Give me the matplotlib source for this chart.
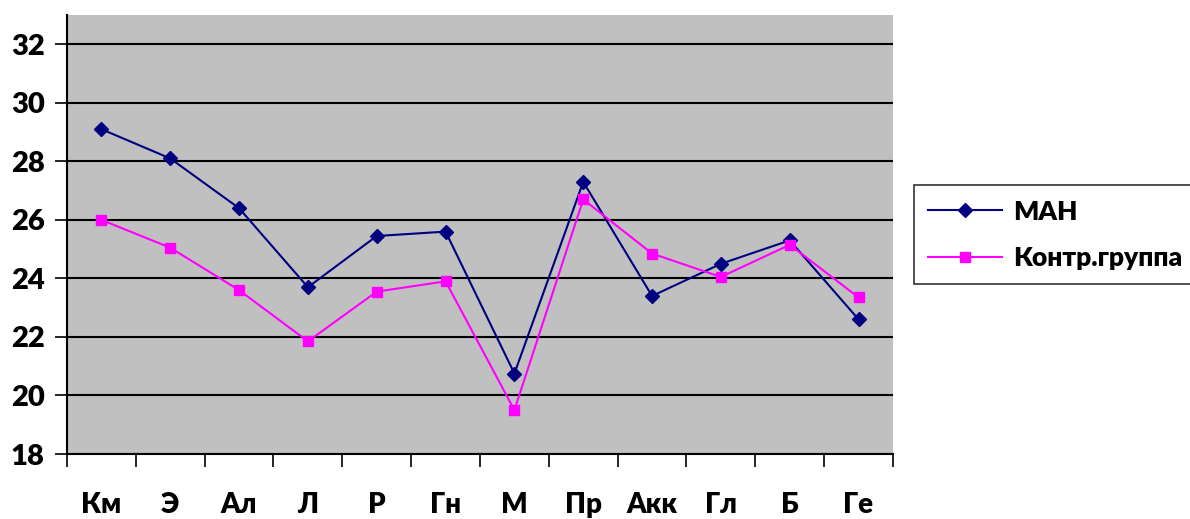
import matplotlib
matplotlib.use('Agg')
import matplotlib.pyplot as plt
import numpy as np

plt.rcParams['font.family'] = ['Lato', 'DejaVu Sans']
plt.rcParams['font.weight'] = 'heavy'

# ------------------------
# данные
# ------------------------
categories = ['Км', 'Э', 'Ал', 'Л', 'Р', 'Гн', 'М', 'Пр', 'Акк', 'Гл', 'Б', 'Ге']
man = [29.1, 28.1, 26.4, 23.7, 25.45, 25.6, 20.75, 27.3, 23.4, 24.5, 25.3, 22.6]
control = [26.0, 25.05, 23.6, 21.85, 23.55, 23.9, 19.5, 26.7, 24.85, 24.05, 25.15, 23.35]
yticks = [18, 20, 22, 24, 26, 28, 30, 32]

fig = plt.figure(figsize=(11.9, 5.19), dpi=100)
ax = fig.add_axes([0.0563, 0.1252, 0.6941, 0.8458])
ax.set_facecolor('#c0c0c0')

x = np.arange(len(categories))
ax.plot(x, man, color='#000080', lw=1.5, marker='D', ms=7, label='МАН', zorder=3)
ax.plot(x, control, color='#ff00ff', lw=1.5, marker='s', ms=7, label='Контр.группа', zorder=3)

ax.set_xlim(-0.5, len(categories) - 0.5)
ax.set_ylim(18, 33)
ax.set_yticks(yticks)
ax.yaxis.grid(True, color='black', lw=1.5)
ax.set_axisbelow(True)

# деления между категориями, подписи по центру
ax.set_xticks(np.arange(-0.5, len(categories), 1))
ax.set_xticklabels([])
ax.set_xticks(x, minor=True)
ax.set_xticklabels(categories, minor=True, fontsize=20, fontweight='heavy')
ax.tick_params(axis='x', which='minor', length=0, pad=27)
ax.tick_params(axis='x', which='major', length=9, width=1.2, direction='out')
ax.tick_params(axis='y', length=9, width=1.2, labelsize=21, pad=7)
for lab in ax.get_yticklabels():
    lab.set_fontweight('heavy')

for s in ['top', 'right']:
    ax.spines[s].set_visible(False)
ax.spines['left'].set_linewidth(1.5)
ax.spines['bottom'].set_linewidth(1.5)

leg = fig.legend(loc='upper left', bbox_to_anchor=(0.768, 0.6435), frameon=True,
                 fancybox=False, edgecolor='black', prop={'size': 19, 'weight': 'heavy'},
                 handlelength=2.8, borderpad=0.55, labelspacing=0.85, handletextpad=0.4,
                 borderaxespad=0)
leg.get_frame().set_linewidth(1.2)

fig.savefig('out.png', dpi=100)
